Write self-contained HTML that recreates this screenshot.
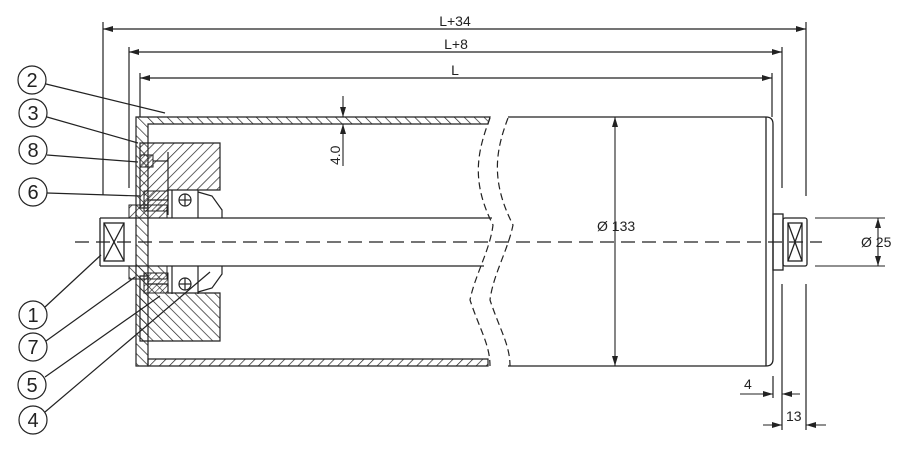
<!DOCTYPE html>
<html><head><meta charset="utf-8"><style>
html,body{margin:0;padding:0;background:#fff;}
svg{display:block;}
text{font-family:"Liberation Sans",sans-serif;fill:#222;}
</style></head><body>
<svg width="900" height="456" viewBox="0 0 900 456" xmlns="http://www.w3.org/2000/svg">
<defs>
<pattern id="h1" width="7" height="7" patternUnits="userSpaceOnUse" patternTransform="rotate(45)">
<line x1="0" y1="0" x2="0" y2="7" stroke="#222" stroke-width="1.4"/></pattern>
<pattern id="h2" width="7" height="7" patternUnits="userSpaceOnUse" patternTransform="rotate(-45)">
<line x1="0" y1="0" x2="0" y2="7" stroke="#222" stroke-width="1.4"/></pattern>
<pattern id="h3" width="4" height="4" patternUnits="userSpaceOnUse" patternTransform="rotate(45)">
<line x1="0" y1="0" x2="0" y2="4" stroke="#222" stroke-width="1.2"/></pattern>
<marker id="a" markerWidth="10" markerHeight="6" refX="10" refY="3" orient="auto-start-reverse" markerUnits="userSpaceOnUse">
<path d="M0,0 L10,3 L0,6 z" fill="#222"/></marker>
</defs>
<g stroke="#222" stroke-width="1.2" fill="none">
<line x1="103" y1="22" x2="103" y2="195"/>
<line x1="103" y1="29" x2="806" y2="29" marker-start="url(#a)" marker-end="url(#a)"/>
<line x1="129" y1="47" x2="129" y2="188"/>
<line x1="129" y1="52" x2="782" y2="52" marker-start="url(#a)" marker-end="url(#a)"/>
<line x1="140" y1="73" x2="140" y2="117"/>
<line x1="140" y1="78" x2="772" y2="78" marker-start="url(#a)" marker-end="url(#a)"/>
<line x1="806" y1="22" x2="806" y2="196"/>
<line x1="782" y1="47" x2="782" y2="188"/>
<line x1="772" y1="73" x2="772" y2="117"/>
<line x1="782" y1="284" x2="782" y2="430"/>
<line x1="806" y1="284" x2="806" y2="430"/>
<line x1="773" y1="376" x2="773" y2="398"/>
</g>
<text x="455" y="26" font-size="14" text-anchor="middle">L+34</text>
<text x="456" y="49" font-size="14" text-anchor="middle">L+8</text>
<text x="455" y="75" font-size="14" text-anchor="middle">L</text>

<path d="M136,117 L490,117 L488,124 L148,124 L148,366 L136,366 Z" fill="url(#h2)" stroke="#222" stroke-width="1.2"/>
<path d="M148,359 L488,359 L488,366 L148,366 Z" fill="url(#h1)" stroke="#222" stroke-width="1.2"/>
<path d="M140,143 L220,143 L220,190 L168,190 L168,200 L148,200 L148,208 L140,208 Z" fill="url(#h1)" stroke="#222" stroke-width="1.2"/>
<path d="M140,276 L148,276 L148,284 L168,284 L168,293 L220,293 L220,341 L140,341 Z" fill="url(#h2)" stroke="#222" stroke-width="1.2"/>
<rect x="144" y="191" width="24" height="20" fill="url(#h3)" stroke="#222"/>
<rect x="144" y="273" width="24" height="20" fill="url(#h3)" stroke="#222"/>
<rect x="129" y="205" width="38" height="13" fill="url(#h1)" stroke="#222"/>
<rect x="129" y="266" width="38" height="13" fill="url(#h2)" stroke="#222"/>
<rect x="140" y="155" width="13" height="12" fill="url(#h3)" stroke="#222"/>
<g stroke="#222" stroke-width="1.2" fill="none">
<line x1="153" y1="161" x2="168" y2="161"/><line x1="168" y1="152" x2="168" y2="215"/>
<line x1="172" y1="190" x2="172" y2="218"/><line x1="172" y1="266" x2="172" y2="294"/>
<circle cx="185" cy="200" r="6"/><line x1="179" y1="200" x2="191" y2="200"/><line x1="185" y1="194" x2="185" y2="206"/>
<circle cx="185" cy="284" r="6"/><line x1="179" y1="284" x2="191" y2="284"/><line x1="185" y1="278" x2="185" y2="290"/>
<path d="M198,192 L212,196 L222,210 L222,218"/><path d="M198,292 L212,288 L222,274 L222,266"/>
<line x1="198" y1="190" x2="198" y2="218"/><line x1="198" y1="266" x2="198" y2="294"/>
</g>
<g stroke="#222" stroke-width="1.3" fill="none">
<line x1="100" y1="218" x2="492" y2="218"/>
<line x1="100" y1="266" x2="484" y2="266"/>
<line x1="100" y1="218" x2="100" y2="266"/>
<rect x="104" y="223" width="20" height="38"/>
<line x1="104" y1="223" x2="124" y2="261"/><line x1="124" y1="223" x2="104" y2="261"/>
<path d="M508,117 L766,117 Q773,117 773,124 L773,359 Q773,366 766,366 L508,366"/>
<line x1="766" y1="117" x2="766" y2="366"/>
<rect x="773" y="214" width="10" height="56"/>
<rect x="783" y="218" width="24" height="48" rx="2"/>
<rect x="788" y="223" width="14" height="38"/>
<line x1="788" y1="223" x2="802" y2="261"/><line x1="802" y1="223" x2="788" y2="261"/>
</g>
<g stroke="#222" stroke-width="1.2" fill="none" stroke-dasharray="7,4">
<path d="M490,118 C478,150 470,180 493,225 C490,250 475,275 470,300 C480,330 490,345 490,366"/>
<path d="M508,118 C496,150 490,180 513,225 C508,250 493,275 490,300 C500,330 510,345 510,366"/>
<line x1="75" y1="242" x2="822" y2="242" stroke-dasharray="14,7"/>
</g>
<g stroke="#222" stroke-width="1.1" fill="none">
<line x1="343" y1="96" x2="343" y2="117" marker-end="url(#a)"/>
<line x1="343" y1="166" x2="343" y2="124" marker-end="url(#a)"/>
<line x1="615" y1="117" x2="615" y2="366" marker-start="url(#a)" marker-end="url(#a)"/>
<line x1="815" y1="218" x2="885" y2="218"/><line x1="815" y1="266" x2="885" y2="266"/>
<line x1="878" y1="218" x2="878" y2="266" marker-start="url(#a)" marker-end="url(#a)"/>
<line x1="740" y1="394" x2="773" y2="394" marker-end="url(#a)"/>
<line x1="800" y1="394" x2="782" y2="394" marker-end="url(#a)"/>
<line x1="763" y1="425" x2="782" y2="425" marker-end="url(#a)"/>
<line x1="826" y1="425" x2="806" y2="425" marker-end="url(#a)"/>
</g>
<text x="0" y="0" font-size="14" transform="translate(340,165) rotate(-90)">4.0</text>
<text x="597" y="231" font-size="14">Ø 133</text>
<text x="861" y="247" font-size="14">Ø 25</text>
<text x="744" y="389" font-size="14">4</text>
<text x="786" y="421" font-size="14">13</text>
<g stroke="#222" stroke-width="1.2" fill="none">
<circle cx="32" cy="80" r="14"/><line x1="46" y1="84" x2="165" y2="113"/>
<circle cx="33" cy="113" r="14"/><line x1="47" y1="117" x2="138" y2="143"/>
<circle cx="33" cy="150" r="14"/><line x1="47" y1="155" x2="138" y2="162"/>
<circle cx="33" cy="192" r="14"/><line x1="47" y1="193" x2="140" y2="196"/>
<circle cx="33" cy="315" r="14"/><line x1="45" y1="307" x2="101" y2="255"/>
<circle cx="33" cy="347" r="14"/><line x1="46" y1="341" x2="135" y2="277"/>
<circle cx="32" cy="385" r="14"/><line x1="45" y1="377" x2="160" y2="296"/>
<circle cx="33" cy="420" r="14"/><line x1="45" y1="412" x2="210" y2="272"/>
</g>
<g font-size="20" text-anchor="middle">
<text x="32" y="87">2</text><text x="33" y="120">3</text><text x="33" y="157">8</text><text x="33" y="199">6</text>
<text x="33" y="322">1</text><text x="33" y="354">7</text><text x="32" y="392">5</text><text x="33" y="427">4</text>
</g>
</svg>
</body></html>
